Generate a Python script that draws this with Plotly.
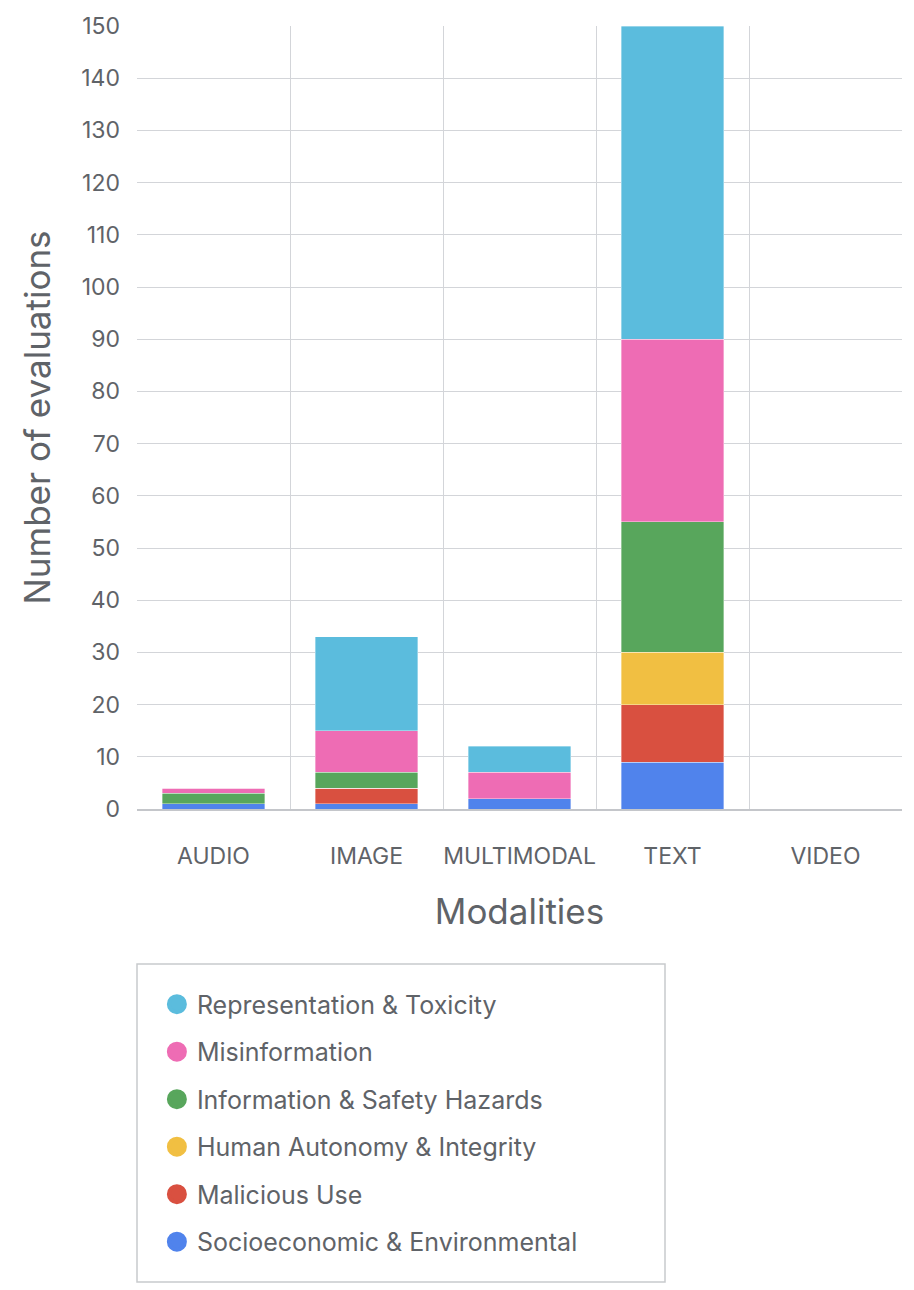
import plotly.graph_objects as go

modalities = ["AUDIO", "IMAGE", "MULTIMODAL", "TEXT", "VIDEO"]

# stacked bottom -> top
categories = [
    "Socioeconomic & Environmental",
    "Malicious Use",
    "Human Autonomy & Integrity",
    "Information & Safety Hazards",
    "Misinformation",
    "Representation & Toxicity",
]
socioeconomic = [1, 1, 2, 9, 0]
malicious = [0, 3, 0, 11, 0]
autonomy = [0, 0, 0, 10, 0]
info_safety = [2, 3, 0, 25, 0]
misinformation = [1, 8, 5, 35, 0]
representation = [0, 18, 5, 60, 0]

values = [socioeconomic, malicious, autonomy, info_safety, misinformation, representation]
colors = ["#5083ec", "#d95040", "#f1bf42", "#58a65c", "#ee6cb4", "#5bbcdd"]

font_family = "Inter"
grey = "#5f6368"
grid = "#d3d5d9"

fig = go.Figure()
for name, vals, col in zip(categories, values, colors):
    fig.add_trace(go.Bar(x=modalities, y=vals, name=name, marker_color=col,
                         marker_line=dict(color="rgba(255,255,255,0.6)", width=0.6),
                         showlegend=False))

# legend entries with round markers, top item first
for i, (name, col) in enumerate(reversed(list(zip(categories, colors)))):
    fig.add_trace(go.Scatter(x=[None], y=[None], mode="markers", name=name,
                             legendgroup="g%d" % i,
                             marker=dict(symbol="circle", size=16, color=col,
                                         line=dict(color=col, width=4))))

# page body adds 8px, so the figure is a bit smaller than the window
top = 18
plot_h = 1282 - 481 - top  # plot area height in px, for paper-coord placement below
fig.update_layout(
    barmode="stack",
    bargap=0.33,
    width=906, height=1282,
    margin=dict(l=129, r=12, t=top, b=481),
    paper_bgcolor="white", plot_bgcolor="white",
    font=dict(family=font_family, color=grey),
    legend=dict(x=0.026, xanchor="left", y=-172.4 / plot_h, yanchor="top",
                font=dict(size=25, color=grey), tracegroupgap=12,
                bgcolor="rgba(0,0,0,0)", borderwidth=0),
    shapes=[dict(type="rect", xref="paper", yref="paper",
                 x0=0, x1=528 / 765, y0=-473 / plot_h, y1=-155 / plot_h,
                 line=dict(color="#c8cacd", width=1.5), fillcolor="rgba(0,0,0,0)")],
)

fig.update_yaxes(range=[0, 150], dtick=10, showgrid=True, gridcolor=grid, gridwidth=1.2,
                 zeroline=False, automargin=False, tickfont=dict(size=23, color=grey),
                 ticklabelstandoff=16, ticklabeloverflow="allow",
                 title=dict(text="Number of evaluations", font=dict(size=35, color=grey), standoff=20))
fig.update_xaxes(tickson="boundaries", showgrid=True, gridcolor=grid, gridwidth=1.2,
                 showline=True, linecolor="#c4c6ca", linewidth=1.5, mirror=False,
                 automargin=False, tickangle=0, tickfont=dict(size=23, color=grey),
                 ticklabelstandoff=26,
                 title=dict(text="Modalities", font=dict(size=35, color=grey), standoff=30))

fig.write_html("out.html")
